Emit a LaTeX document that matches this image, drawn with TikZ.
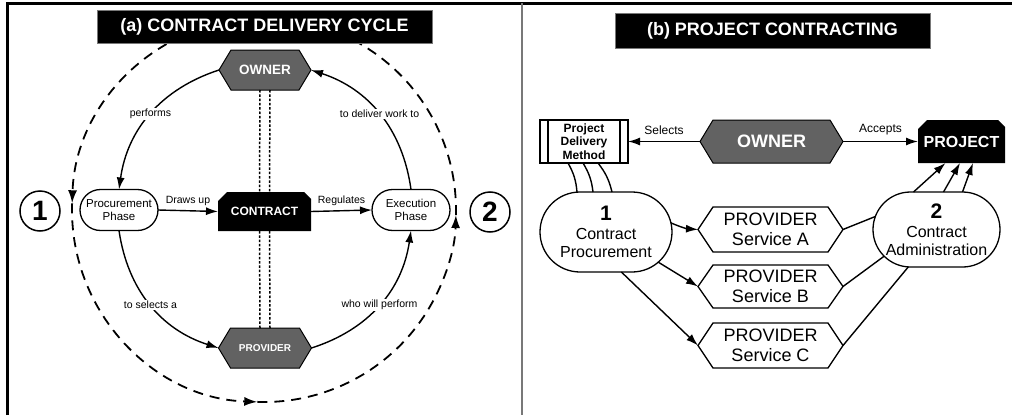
\documentclass[tikz,border=0pt]{standalone}
\usepackage{fontspec}
\setmainfont{Liberation Sans}
\usetikzlibrary{arrows.meta,shapes.misc,backgrounds}
\definecolor{hexgray}{RGB}{98,98,98}
\definecolor{divgray}{RGB}{120,120,120}
\newcommand\hexshape[3]{%
  \path[#3] (#1.west) -- ([xshift=#2]#1.north west) -- ([xshift=-#2]#1.north east) -- (#1.east) -- ([xshift=-#2]#1.south east) -- ([xshift=#2]#1.south west) -- cycle;}
\newcommand\chamshape[4]{%
  \path[#4] (#1.south west) -- ([yshift=-#2]#1.north west) -- ([xshift=#2]#1.north west) -- ([xshift=-#3]#1.north east) -- ([yshift=-#3]#1.north east) -- (#1.south east) -- cycle;}
\tikzset{
  base/.style={inner sep=0pt, outer sep=0pt, align=center},
  titlebox/.style={base, fill=black, draw=divgray, line width=0.6pt, text=white, font=\fontsize{18}{20}\selectfont\bfseries},
  darkhex/.style={base, text=white},
  roundbox/.style={base, draw, line width=1.3pt, rounded rectangle, font=\fontsize{11.5}{13.5}\selectfont},
  numcirc/.style={base, draw, circle, line width=1.5pt, minimum size=40pt, font=\fontsize{28}{30}\selectfont\bfseries},
  lbl/.style={fill=white, inner sep=1.2pt, font=\fontsize{10.5}{12}\selectfont},
  lblb/.style={inner sep=1pt, font=\fontsize{12}{14}\selectfont},
  conn/.style={line width=1.4pt, -{Latex[length=12pt,width=8pt]}},
  plainline/.style={line width=1.4pt},
  dotline/.style={line width=1.5pt, dash pattern=on 2.5pt off 1.8pt},
  dcyc/.style={line width=1.8pt, dash pattern=on 10pt off 7pt},
  provbox/.style={base, minimum width=145pt, font=\fontsize{18}{20}\selectfont},
  oval/.style={base, draw, line width=1.3pt, rounded rectangle, font=\fontsize{16}{18}\selectfont},
}
\begin{document}
\begin{tikzpicture}[x=1pt,y=-1pt]
\useasboundingbox (0,0) rectangle (1012,415);
% frame
\draw[line width=3pt] (7,415) -- (7,3) -- (1012,3);
\draw[divgray, line width=1.5pt] (522,3) -- (522,415);

% ---------- (a) ----------
\coordinate (cyc) at (264,210);
\draw[dcyc, -{Latex[length=13pt,width=9pt]}] ([shift={(90:192pt)}]cyc) arc[start angle=90, end angle=178, radius=192pt];
\draw[dcyc, -{Latex[length=13pt,width=9pt]}] ([shift={(178:192pt)}]cyc) arc[start angle=178, end angle=268, radius=192pt];
\draw[dcyc, -{Latex[length=13pt,width=9pt]}] ([shift={(268:192pt)}]cyc) arc[start angle=268, end angle=358.5, radius=192pt];
\draw[dcyc] ([shift={(358.5:192pt)}]cyc) arc[start angle=358.5, end angle=450, radius=192pt];

\node[titlebox, minimum width=335pt, minimum height=33pt] (ta) at (264.5,26.5) {(a) CONTRACT DELIVERY CYCLE};

\node[darkhex, minimum width=92pt, minimum height=40pt, font=\fontsize{13.5}{15}\selectfont\bfseries] (own1) at (265,70) {OWNER};
\node[darkhex, minimum width=93pt, minimum height=39pt, font=\fontsize{12}{14}\selectfont\bfseries] (con) at (264.5,211.5) {CONTRACT};
\node[darkhex, minimum width=93pt, minimum height=40pt, font=\fontsize{10}{12}\selectfont\bfseries] (prov1) at (265,348) {PROVIDER};
\node[roundbox, minimum width=78pt, minimum height=41pt] (proc) at (119,210) {Procurement\\Phase};
\node[roundbox, minimum width=78pt, minimum height=41pt] (exe) at (411,210) {Execution\\Phase};
\node[numcirc] (n1) at (40,211) {1};
\node[numcirc] (n2) at (490,212) {2};

\draw[dotline] ([xshift=-5pt]own1.south) -- ([xshift=-5pt]con.north);
\draw[dotline] ([xshift=5pt]own1.south) -- ([xshift=5pt]con.north);
\draw[dotline] ([xshift=-5pt]con.south) -- ([xshift=-5pt]prov1.north);
\draw[dotline] ([xshift=5pt]con.south) -- ([xshift=5pt]prov1.north);

\draw[conn] (own1.west) to[bend right=32] node[lbl, pos=0.5] {performs} (proc.north);
\draw[conn] (exe.north) to[bend right=32] node[lbl, pos=0.5] {to deliver work to} (own1.east);
\draw[conn] (proc.south) to[bend right=32] node[lbl, pos=0.5] {to selects a} (prov1.west);
\draw[conn] (prov1.east) to[bend right=32] node[lbl, pos=0.5] {who will perform} (exe.south);
\draw[conn] (proc.east) -- node[lbl, fill=none, above=3pt] {Draws up} (con.west);
\draw[conn] (con.east) -- node[lbl, fill=none, above=3pt] {Regulates} (exe.west);

% ---------- (b) ----------
\node[titlebox, minimum width=315pt, minimum height=35pt] (tb) at (772.5,30.5) {(b) PROJECT CONTRACTING};

\node[darkhex, minimum width=143pt, minimum height=43pt, font=\fontsize{18}{20}\selectfont\bfseries] (own2) at (771.5,141.5) {OWNER};
\node[base, draw, line width=1.3pt, minimum width=88pt, minimum height=43pt, font=\fontsize{12}{13.3}\selectfont\bfseries] (pdm) at (584,141.5) {Project\\Delivery\\Method};
\draw[line width=1.2pt] ([xshift=8pt]pdm.north west) -- ([xshift=8pt]pdm.south west);
\draw[line width=1.2pt] ([xshift=-8pt]pdm.north east) -- ([xshift=-8pt]pdm.south east);
\node[darkhex, minimum width=87pt, minimum height=43pt, font=\fontsize{16}{18}\selectfont\bfseries] (prj) at (961.5,141.5) {PROJECT};

\node[oval, minimum width=132pt, minimum height=80pt] (o1) at (606,232) {{\fontsize{21}{22}\selectfont\bfseries 1}\\[1pt]Contract\\Procurement};
\node[oval, minimum width=127pt, minimum height=75pt] (o2) at (936.5,229.5) {{\fontsize{21}{22}\selectfont\bfseries 2}\\[1pt]Contract\\Administration};

\node[provbox, minimum height=45pt] (pa) at (770.5,229.5) {PROVIDER\\Service A};
\node[provbox, minimum height=43pt] (pb) at (770.5,286.5) {PROVIDER\\Service B};
\node[provbox, minimum height=45pt] (pc) at (770.5,345.5) {PROVIDER\\Service C};

\draw[conn] (own2.west) -- node[lblb, above=5pt] {Selects} (pdm.east);
\draw[conn] (own2.east) -- node[lblb, above=5pt] {Accepts} (prj.west);

\draw[plainline] ([xshift=-16pt]pdm.south) to[bend left=12] ([xshift=-29pt]o1.north);
\draw[plainline] ([xshift=-1pt]pdm.south) to[bend left=12] ([xshift=-13pt]o1.north);
\draw[plainline] ([xshift=14pt]pdm.south) to[bend left=12] ([xshift=6pt]o1.north);

\draw[conn] (o1.8) to[bend right=10] (pa.west);
\draw[conn] (o1.-30) -- (pb.west);
\draw[conn] (o1.-69) -- (pc.west);

\draw[plainline] (pa.east) -- (o2.168);
\draw[plainline] (pb.east) -- (o2.207);
\draw[plainline] (pc.east) -- (o2.233);

\draw[conn] ([xshift=-23pt]o2.north) -- ([xshift=-16pt]prj.south);
\draw[conn] ([xshift=7pt]o2.north) -- ([xshift=-1.5pt]prj.south);
\draw[conn] ([xshift=26pt]o2.north) -- ([xshift=11.5pt]prj.south);

% shapes on background
\begin{scope}[on background layer]
  \hexshape{own1}{12pt}{fill=hexgray, draw=black, line width=1pt}
  \hexshape{prov1}{12pt}{fill=hexgray, draw=black, line width=1pt}
  \hexshape{own2}{13pt}{fill=hexgray, draw=black, line width=1pt}
  \hexshape{pa}{15pt}{fill=white, draw=black, line width=1.3pt}
  \hexshape{pb}{15pt}{fill=white, draw=black, line width=1.3pt}
  \hexshape{pc}{15pt}{fill=white, draw=black, line width=1.3pt}
  \chamshape{con}{9pt}{7pt}{fill=black}
  \chamshape{prj}{9pt}{7pt}{fill=black}
\end{scope}
\end{tikzpicture}
\end{document}
